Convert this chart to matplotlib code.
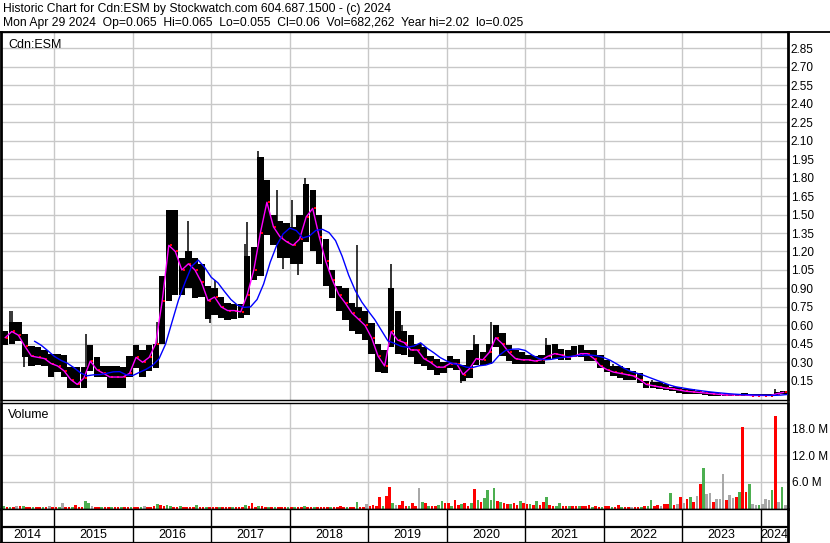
import numpy as np
import pandas as pd
import matplotlib
matplotlib.use('Agg')
import matplotlib.pyplot as plt
from matplotlib.lines import Line2D

plt.rcParams['font.family'] = ['Liberation Sans', 'DejaVu Sans']

# monthly price bars, May 2014 .. Apr 2024 (body high / body low / monthly average)
price_hi = [0.55, 0.63, 0.63, 0.53, 0.43, 0.42, 0.40, 0.37,
            0.37, 0.36, 0.26, 0.26, 0.26, 0.44, 0.34, 0.27, 0.27, 0.27, 0.26, 0.35,
            0.44, 0.40, 0.44, 0.45, 1.00, 1.54, 1.54, 1.15, 1.20, 1.15, 1.10, 0.92,
            0.90, 0.83, 0.78, 0.77, 0.77, 1.16, 1.24, 1.97, 1.78, 1.50, 1.45, 1.43,
            1.40, 1.50, 1.75, 1.70, 1.50, 1.30, 1.05, 0.92, 0.90, 0.78, 0.75, 0.72,
            0.62, 0.45, 0.40, 0.90, 0.72, 0.55, 0.52, 0.45, 0.42, 0.35, 0.33, 0.30,
            0.35, 0.33, 0.28, 0.40, 0.45, 0.38, 0.45, 0.60, 0.54, 0.44, 0.40, 0.38,
            0.36, 0.35, 0.36, 0.44, 0.45, 0.41, 0.40, 0.43, 0.44, 0.40, 0.40, 0.36,
            0.32, 0.27, 0.27, 0.25, 0.23, 0.21, 0.15, 0.14, 0.14, 0.12, 0.10, 0.10,
            0.08, 0.08, 0.065, 0.06, 0.055, 0.05, 0.045, 0.045, 0.045, 0.05, 0.045, 0.045,
            0.04, 0.045, 0.06, 0.07]
price_lo = [0.44, 0.45, 0.47, 0.34, 0.27, 0.28, 0.27, 0.18,
            0.22, 0.18, 0.09, 0.09, 0.09, 0.23, 0.18, 0.18, 0.09, 0.09, 0.09, 0.18,
            0.25, 0.18, 0.23, 0.25, 0.45, 0.80, 0.85, 0.85, 0.90, 0.82, 0.83, 0.65,
            0.68, 0.66, 0.64, 0.65, 0.66, 0.68, 0.97, 1.00, 1.33, 1.25, 1.15, 1.15,
            1.10, 1.10, 1.28, 1.20, 1.10, 0.92, 0.82, 0.72, 0.64, 0.55, 0.53, 0.48,
            0.37, 0.22, 0.21, 0.42, 0.37, 0.36, 0.34, 0.29, 0.27, 0.24, 0.20, 0.21,
            0.25, 0.24, 0.15, 0.17, 0.28, 0.28, 0.29, 0.42, 0.35, 0.31, 0.29, 0.29,
            0.29, 0.29, 0.29, 0.32, 0.33, 0.32, 0.32, 0.34, 0.34, 0.31, 0.31, 0.25,
            0.22, 0.19, 0.17, 0.16, 0.16, 0.13, 0.09, 0.09, 0.08, 0.075, 0.065, 0.05,
            0.045, 0.04, 0.04, 0.035, 0.03, 0.025, 0.025, 0.025, 0.025, 0.025, 0.025, 0.025,
            0.025, 0.025, 0.035, 0.04]
price_avg = [0.50, 0.55, 0.52, 0.43, 0.35, 0.34, 0.33, 0.29,
             0.27, 0.23, 0.16, 0.12, 0.17, 0.31, 0.24, 0.21, 0.18, 0.18, 0.18, 0.21,
             0.34, 0.30, 0.34, 0.45, 0.80, 1.25, 1.20, 1.05, 1.10, 1.05, 0.95, 0.80,
             0.83, 0.75, 0.72, 0.72, 0.71, 0.85, 1.05, 1.35, 1.60, 1.40, 1.32, 1.28,
             1.25, 1.30, 1.48, 1.55, 1.32, 1.12, 0.97, 0.85, 0.78, 0.70, 0.65, 0.60,
             0.50, 0.35, 0.27, 0.55, 0.48, 0.46, 0.40, 0.40, 0.33, 0.30, 0.26, 0.26,
             0.29, 0.29, 0.20, 0.25, 0.33, 0.32, 0.38, 0.50, 0.45, 0.38, 0.33, 0.32,
             0.32, 0.31, 0.32, 0.35, 0.37, 0.36, 0.34, 0.35, 0.37, 0.37, 0.33, 0.27,
             0.24, 0.22, 0.21, 0.20, 0.19, 0.16, 0.12, 0.11, 0.10, 0.09, 0.085, 0.075,
             0.065, 0.06, 0.055, 0.05, 0.045, 0.04, 0.035, 0.035, 0.035, 0.035, 0.03, 0.03,
             0.03, 0.03, 0.045, 0.055]

# single-day spikes: months since May 2014, price
spike_month = [1.2, 1.6, 3.4, 12.8, 23.7, 28.4, 31.8, 32.6, 37.1, 37.5, 39.2, 42.1, 42.9,
               44.4, 45.3, 46.3, 54.3, 59.4, 61.2, 64.0, 70.2, 72.1, 74.8, 83.1, 93.4,
               99.4, 102.7, 118.2]
spike_price = [0.72, 0.72, 0.26, 0.53, 0.63, 1.45, 0.62, 0.97, 1.26, 1.44, 2.02, 1.70, 1.06,
               1.62, 1.01, 1.80, 1.25, 1.10, 0.60, 0.46, 0.13, 0.52, 0.63, 0.50, 0.29,
               0.16, 0.11, 0.08]

# half-monthly volume in millions, May 2014 .. Apr 2024 (r = down, g = up, k = unchanged)
vol_2014 = [0.56, 0.35, 0.45, 0.45, 0.56, 0.56, 0.56, 0.35, 0.35, 0.35, 0.35, 0.3, 0.3, 0.35, 0.5, 0.35]
vol_2015 = [0.35, 0.3, 1.23, 0.35, 0.3, 0.35, 0.79, 0.35, 0.45, 1.68, 1.23, 0.56,
            0.35, 0.3, 0.3, 0.3, 0.3, 0.3, 0.3, 0.35, 0.3, 0.3, 0.35, 0.35]
vol_2016 = [0.3, 0.35, 0.3, 0.5, 0.35, 0.45, 0.5, 1.08, 0.8, 0.5, 0.79, 0.56,
            0.45, 0.35, 0.5, 0.35, 0.35, 0.3, 0.35, 0.79, 0.35, 0.3, 0.35, 0.3]
vol_2017 = [0.35, 0.3, 0.3, 0.35, 0.35, 0.35, 0.3, 0.35, 0.45, 0.45, 0.79, 0.5,
            1.23, 0.45, 0.5, 0.56, 0.45, 0.35, 0.45, 0.45, 0.35, 0.45, 0.35, 0.45]
vol_2018 = [0.45, 0.45, 0.35, 0.45, 0.56, 0.35, 0.35, 0.35, 0.35, 0.35, 0.3, 0.35,
            0.35, 0.35, 0.45, 0.5, 0.45, 0.35, 0.35, 0.45, 1.46, 0.35, 0.45, 1.0]
vol_2019 = [0.5, 0.79, 0.6, 2.58, 0.56, 2.8, 4.8, 1.3, 0.8, 0.8, 1.68, 0.56,
            0.5, 1.16, 0.5, 4.6, 1.45, 1.16, 0.56, 0.5, 0.56, 0.8, 1.68, 1.16]
vol_2020 = [1.16, 0.56, 1.9, 0.7, 1.0, 1.16, 0.5, 1.16, 4.4, 1.9, 1.45, 2.4,
            4.1, 1.8, 4.7, 1.68, 1.45, 1.16, 0.9, 0.9, 1.16, 0.7, 1.68, 1.16]
vol_2021 = [0.9, 0.9, 0.7, 1.68, 0.7, 1.45, 2.65, 0.7, 0.56, 0.56, 1.2, 0.5,
            0.5, 0.56, 0.5, 0.5, 0.5, 0.5, 0.56, 0.72, 0.45, 0.5, 0.45, 0.45]
vol_2022 = [0.5, 0.56, 0.45, 0.45, 0.7, 0.45, 0.45, 0.45, 0.45, 0.35, 0.45, 0.45,
            0.5, 0.56, 1.9, 0.5, 0.72, 0.56, 0.9, 1.0, 3.55, 0.7, 1.0, 2.5]
vol_2023 = [1.2, 2.05, 2.65, 1.5, 2.8, 5.5, 9.0, 3.2, 3.55, 1.5, 2.2, 2.05,
            7.7, 1.9, 3.0, 2.4, 2.65, 3.7, 18.4, 3.7, 5.5, 0.9, 0.7, 0.8]
vol_2024 = [1.0, 2.05, 1.9, 4.15, 20.8, 1.5, 4.75, 0.7]
vol_cols = ('grgrkrgrrgrrgrkr'
            'rgkrrgrrrggkrrgrrgrrgrrg'
            'rrgkrrrgrrggrrgrrrrgrrgr'
            'rrgrrrgrrrgrrrgrrgrgrrrg'
            'rgrrgrrgrrrrgrrrrgrrgrrk'
            'rrrrgrrgkrrrgrrkgrgrrggr'
            'rgrrgrrgrgrggggrgrrgrrgr'
            'rgrgrrgrrggrrgrrgrrrgrrg'
            'rrgrrgrrkrrgrggrrkrrgrkr'
            'krgrkrgkkrkkkrkkrgrrgkkg'
            'kkkgrkgk')

years = list(range(2014, 2025))
price_ticks = [0.15 * k for k in range(1, 20)]
vol_ticks = [6, 12, 18]

W, H = 830, 543
PX_YEAR = 78.49
T_ZERO = 2014.308  # year value at the left pixel


def box(l, t, r, b):
    return [l / W, 1 - b / H, (r - l) / W, (b - t) / H]


volume = vol_2014 + vol_2015 + vol_2016 + vol_2017 + vol_2018 + vol_2019 + \
    vol_2020 + vol_2021 + vol_2022 + vol_2023 + vol_2024
start = 2014 + 4 / 12
t_month = start + (np.arange(len(price_hi)) + 0.5) / 12
t_half = start + (np.arange(len(volume)) + 0.5) / 24
colmap = {'r': '#ff0000', 'g': '#4caf50', 'k': '#a8a8a8'}

fig = plt.figure(figsize=(8.3, 5.43), dpi=100)
xlim = (T_ZERO + 1 / PX_YEAR, T_ZERO + 788 / PX_YEAR)
grid_kw = dict(color='#c8c8c8', lw=1.0)

# price panel
ax = fig.add_axes(box(1, 32, 788, 400))
ax.set_xlim(*xlim)
ax.set_ylim(-0.0065, 2.983)
ax.set_xticks(years[1:])
ax.set_yticks(price_ticks)
ax.grid(True, **grid_kw)
ax.set_axisbelow(True)
ax.bar(t_month, np.array(price_hi) - np.array(price_lo), bottom=price_lo,
       width=0.97 / 12, color='black', zorder=2)
avg_at = [price_avg[int(m)] for m in spike_month]
ax.vlines(start + np.array(spike_month) / 12, avg_at, spike_price, color='black', lw=1.1, zorder=2)
ax.plot(t_month + 0.3 / 12, price_avg, 's', color='#ff0000', ms=2, mew=0, zorder=3)
ax.plot(t_month, price_avg, color='#ff00ff', lw=1.0, zorder=4)
ma_long = pd.Series(price_avg).rolling(5).mean()
ax.plot(t_month + 0.5 / 12, ma_long, color='#0000ff', lw=1.0, zorder=4)
ax.tick_params(axis='both', length=0, labelbottom=False, labelleft=False,
               labelright=True, labelsize=8.5, pad=2)
ax.yaxis.set_major_formatter(plt.FuncFormatter(lambda v, p: f'{v:.2f}'))
ax.text(7 / 786, 1 - 16 / 368, 'Cdn:ESM', transform=ax.transAxes, fontsize=9,
        va='baseline', ha='left')

# volume panel
axv = fig.add_axes(box(1, 403, 788, 509))
axv.set_xlim(*xlim)
axv.set_ylim(-0.11, 23.68)
axv.set_xticks(years[1:])
axv.set_yticks(vol_ticks)
axv.grid(True, **grid_kw)
axv.set_axisbelow(True)
axv.bar(t_half, volume, width=0.8 / 24, color=[colmap[c] for c in vol_cols], zorder=2)
axv.tick_params(axis='both', length=0, labelbottom=False, labelleft=False,
                labelright=True, labelsize=8.5, pad=3)
axv.yaxis.set_major_formatter(plt.FuncFormatter(lambda v, p: f'{v:.1f} M'))
axv.text(7 / 786, 1 - 15 / 106, 'Volume', transform=axv.transAxes, fontsize=9,
         va='baseline', ha='left')

# year band
axy = fig.add_axes(box(1, 509, 788, 542.5))
axy.set_xlim(*xlim)
axy.set_ylim(0, 1)
axy.set_xticks([])
axy.set_yticks([])
axy.axhline(16 / 33.5, color='black', lw=1.6)
axy.vlines(years[1:], 0, 1, color='black', lw=1.0)
for y in years:
    a, b = max(y, xlim[0]), min(y + 1, xlim[1])
    axy.text((a + b) / 2, 7.5 / 33.5, str(y), ha='center', va='center', fontsize=9)

for a in (ax, axv, axy):
    for s in a.spines.values():
        s.set_color('black')
        s.set_linewidth(1.0)
    a.spines['left'].set_linewidth(2.0)
    a.spines['right'].set_linewidth(2.0)
axy.spines['bottom'].set_linewidth(1.6)

fig.add_artist(Line2D([0, 1], [1 - 31.5 / H] * 2, color='black', lw=1.3))

fig.text(3 / W, 1 - 12 / H, 'Historic Chart for Cdn:ESM by Stockwatch.com 604.687.1500 - (c) 2024',
         fontsize=8.7, va='baseline')
fig.text(3 / W, 1 - 26 / H, 'Mon Apr 29 2024  Op=0.065  Hi=0.065  Lo=0.055  Cl=0.06  '
         'Vol=682,262  Year hi=2.02  lo=0.025', fontsize=8.7, va='baseline')

fig.savefig('out.png', dpi=100)
